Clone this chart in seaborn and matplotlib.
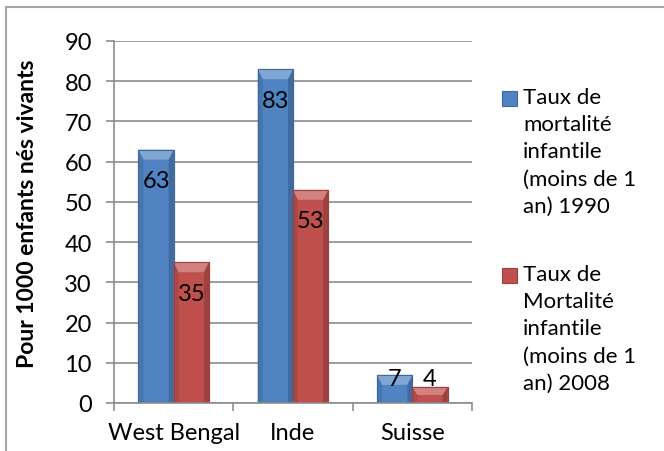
import textwrap
import numpy as np
import pandas as pd
import matplotlib
matplotlib.use("Agg")
import matplotlib.pyplot as plt
import seaborn as sns
from matplotlib.patches import Rectangle, Polygon
from matplotlib.colors import to_rgb

# ---- data ----
regions = ["West Bengal", "Inde", "Suisse"]
series_names = [
    "Taux de mortalité infantile (moins de 1 an) 1990",
    "Taux de Mortalité infantile (moins de 1 an) 2008",
]
rate_1990 = [63, 83, 7]
rate_2008 = [35, 53, 4]
y_ticks = [0, 10, 20, 30, 40, 50, 60, 70, 80, 90]
y_label = "Pour 1000 enfants nés vivants"

colors = ["#4f83c2", "#c0504d"]

df = pd.DataFrame({
    "region": regions * 2,
    "series": [series_names[0]] * len(regions) + [series_names[1]] * len(regions),
    "value": rate_1990 + rate_2008,
})

sns.set_theme(style="white")
plt.rcParams["font.family"] = ["Lato", "DejaVu Sans"]

W, H = 664, 452
fig = plt.figure(figsize=(W / 100, H / 100), dpi=100)
fig.patch.set_facecolor("white")
ax = fig.add_axes([114 / W, 48 / H, 358 / W, 362 / H])

sns.barplot(data=df, x="region", y="value", hue="series", palette=colors,
            width=0.59, saturation=1, ax=ax, legend=False)

ax.set_xlim(-0.5, 2.5)
ax.set_ylim(0, 90)


def shade(c, f):
    r = np.array(to_rgb(c))
    if f < 1:
        return tuple(r * f)
    return tuple(r + (1 - r) * (f - 1))


# bevelled bar faces
px_x = 3 / 358.0      # data units per pixel (x)
px_y = 90 / 362.0     # data units per pixel (y)
for cont, col, vals in zip(ax.containers, colors, [rate_1990, rate_2008]):
    for bar, v in zip(cont, vals):
        x0 = bar.get_x()
        w = bar.get_width()
        x1 = x0 + w
        h = bar.get_height()
        bar.set_facecolor(col)
        bar.set_edgecolor(shade(col, 0.8))
        bar.set_linewidth(0.8)
        d = 5 * px_x
        dd = min(10 * px_y, h / 2)
        z = bar.get_zorder() + 0.05
        ax.add_patch(Polygon([(x0, 0), (x0, h), (x0 + d, h - dd), (x0 + d, 0)],
                             closed=True, facecolor=shade(col, 0.9), edgecolor="none", zorder=z))
        ax.add_patch(Polygon([(x1, 0), (x1, h), (x1 - d, h - dd), (x1 - d, 0)],
                             closed=True, facecolor=shade(col, 0.82), edgecolor="none", zorder=z))
        ax.add_patch(Polygon([(x0, h), (x1, h), (x1 - d, h - dd), (x0 + d, h - dd)],
                             closed=True, facecolor=shade(col, 1.28), edgecolor="none", zorder=z))
        ax.add_patch(Rectangle((x0, 0), w, h, facecolor="none",
                               edgecolor=shade(col, 0.8), linewidth=0.8, zorder=z + 0.01))
        label_y = max(v - 7.7, 6)
        ax.text(x0 + w / 2, label_y, f"{v}", ha="center", va="center",
                fontsize=17, color="black", zorder=z + 0.1)

# axes styling
grid_col = "#8c8c8c"
ax.set_yticks(y_ticks)
ax.yaxis.grid(True, color=grid_col, linewidth=1.2)
ax.set_axisbelow(True)
for s in ["top", "right"]:
    ax.spines[s].set_visible(False)
for s in ["left", "bottom"]:
    ax.spines[s].set_color(grid_col)
    ax.spines[s].set_linewidth(1.2)

ax.tick_params(axis="y", which="major", length=6, width=1.2, color=grid_col,
               labelsize=17, labelcolor="black", pad=10, left=True)
ax.set_xticks(range(len(regions)))
ax.set_xticklabels(regions)
ax.set_xticks([-0.5, 0.5, 1.5, 2.5], minor=True)
ax.tick_params(axis="x", which="major", length=0, labelsize=17,
               labelcolor="black", pad=14)
ax.tick_params(axis="x", which="minor", length=6, width=1.2, color=grid_col,
               bottom=True, direction="out")
ax.set_xlabel("")
ax.set_ylabel("")
fig.text(28 / W, 1 - 214 / H, y_label, rotation=90, ha="center", va="center",
         fontsize=16.5, fontweight="bold", color="black")

# legend (squares + wrapped labels)
for i, (name, col) in enumerate(zip(series_names, colors)):
    top_px = 92 + i * 177
    fig.patches.append(Rectangle((502 / W, 1 - (top_px + 15) / H), 15 / W, 15 / H,
                                 transform=fig.transFigure, facecolor=col,
                                 edgecolor=shade(col, 0.8), linewidth=0.8))
    fig.text(523 / W, 1 - (top_px - 4) / H, textwrap.fill(name, 11),
             ha="left", va="top", fontsize=16, linespacing=1.45, color="black")

# chart frame
fig.patches.append(Rectangle((6 / W, -0.1), 1.2, 1 - 8 / H + 0.1,
                             transform=fig.transFigure, facecolor="none",
                             edgecolor="#a6a6a6", linewidth=1.5))

fig.savefig("out.png", dpi=100)
